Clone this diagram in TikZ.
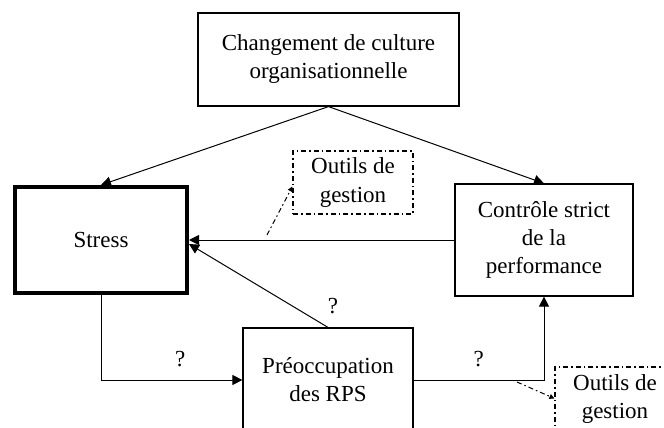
\documentclass[tikz,border=0pt]{standalone}
\usepackage{fontspec}
\setmainfont{Liberation Serif}
\usetikzlibrary{arrows.meta}

\tikzset{
    txt/.style={font=\fontsize{11.5}{14}\selectfont, align=center},
    bloc/.style={txt, draw, line width=0.6pt, inner sep=0pt},
    outil/.style={txt, draw, line width=0.6pt, inner sep=0pt,
        dash pattern=on 2.5pt off 1.5pt on 0.8pt off 1.5pt,
        minimum width=60pt, minimum height=31.5pt},
    fleche/.style={line width=0.5pt, -{Triangle[length=5pt,width=5pt]}},
    lien/.style={line width=0.5pt, dash pattern=on 2.5pt off 1.5pt on 0.8pt off 1.5pt,
        -{Triangle[length=2.5pt,width=2.5pt]}},
}

\begin{document}
\begin{tikzpicture}[x=0.5pt, y=-0.5pt]
            \useasboundingbox (0,0) rectangle (664,428);
            % blocs
            \node[bloc, minimum width=130.5pt, minimum height=46.5pt] (culture) at (328.5,59.5)
                {Changement de culture\\organisationnelle};
            \node[bloc, line width=2pt, minimum width=86pt, minimum height=53pt] (stress) at (101,240)
                {Stress};
            \node[bloc, minimum width=89pt, minimum height=56pt] (controle) at (544,240)
                {Contrôle strict\\de la\\performance};
            \node[bloc, minimum width=85pt, minimum height=52pt] (rps) at (328,380)
                {Préoccupation\\des RPS};
            \node[outil] (outil1) at (353,182.5) {Outils de\\gestion};
            \node[outil] (outil2) at (615,398.5) {Outils de\\gestion};
            % fleches
            \draw[fleche] (culture.south) -- (stress.north);
            \draw[fleche] (culture.south) -- (controle.north);
            \draw[fleche] (controle.west) -- (stress.east);
            \draw[fleche] (rps.north) -- ([yshift=-2pt]stress.east);
            \node[txt] (q2) at (333,306) {?};
            \draw[fleche] (stress.south) |- (rps.west) node[txt, pos=0.78, above=3pt] (q1) {?};
            \draw[fleche] (rps.east) -| (controle.south) node[txt, pos=0.25, above=3pt] (q3) {?};
            % outils de gestion
            \coordinate (t1) at (267,235);
            \coordinate (t2) at (517,382);
            \draw[lien] (t1) -- ([yshift=-2pt]outil1.west);
            \draw[lien] (t2) -- (outil2.west);
        \end{tikzpicture}
\end{document}
